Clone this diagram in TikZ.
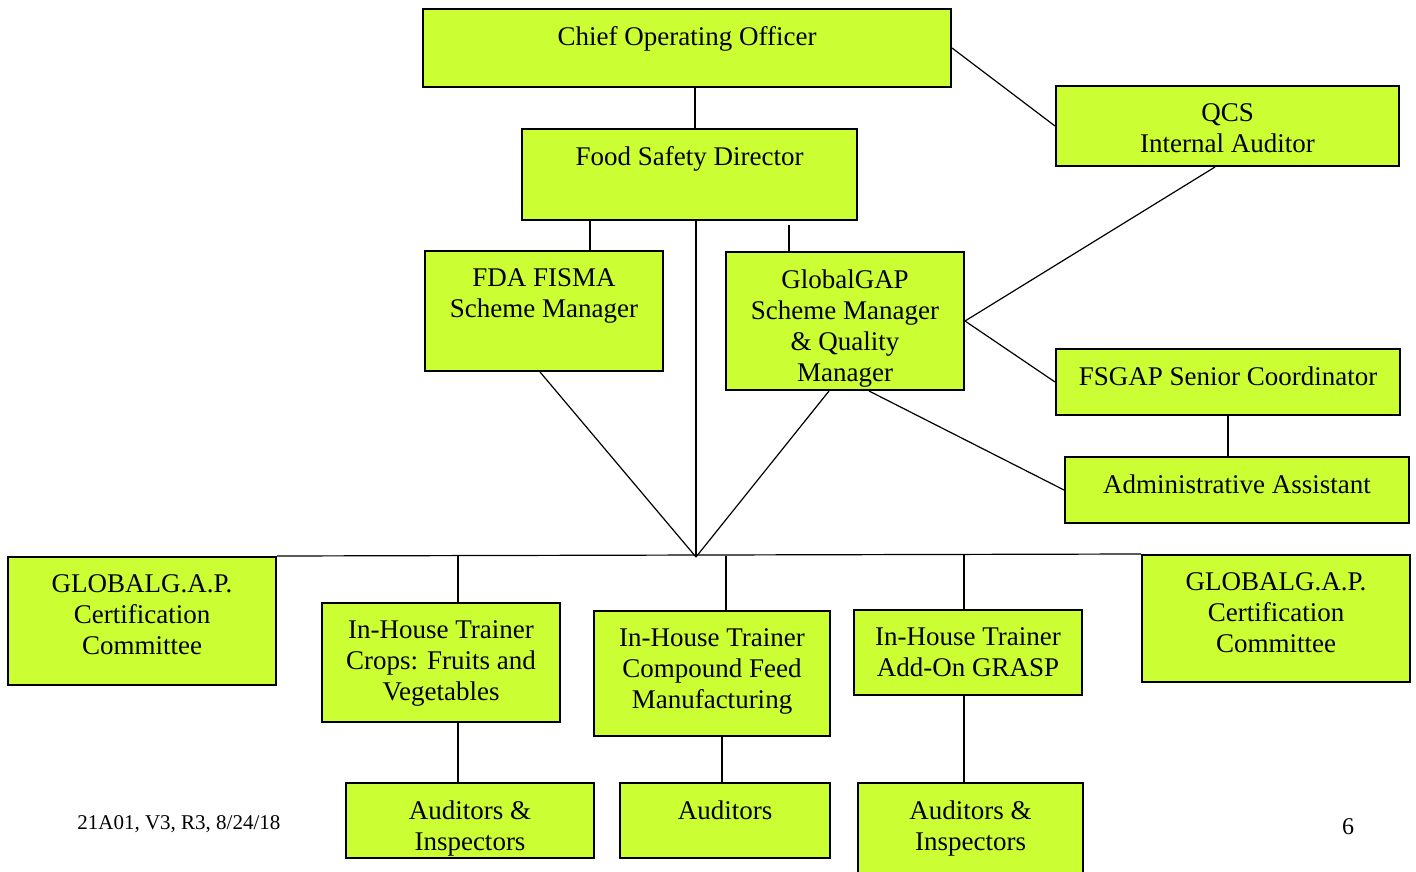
\documentclass[tikz,border=0pt]{standalone}
\usepackage{fontspec}
\setmainfont{Liberation Serif}
\usepackage{tikz}
\usetikzlibrary{calc,fit}

\definecolor{lime}{HTML}{CCFF33}

% box spanned by its corners, label hung from the top edge
\newcommand{\orgbox}[6]{%
  \node[box, fit={(#2,#3) (#4,#5)}] (#1) {};
  \node[lbl, anchor=north] (#1-t) at ([yshift=-9pt]#1.north) {#6};}

\begin{document}
\begin{tikzpicture}[x=0.5pt,y=-0.5pt,
  box/.style={draw=black,line width=1pt,fill=lime,inner sep=0pt},
  lbl/.style={inner sep=0pt,align=center,font=\fontsize{13.5}{15.5}\selectfont},
  link/.style={draw=black,line width=0.6pt}]
\useasboundingbox (0,0) rectangle (1416,871);

% top of the chart
\orgbox{coo}{423}{9}{951}{87}{Chief Operating Officer}
\orgbox{fsd}{522}{129}{857}{220}{Food Safety Director}
\orgbox{qcs}{1056}{86}{1399}{166}{QCS\\Internal Auditor}
\orgbox{fda}{425}{251}{663}{371}{FDA FISMA\\Scheme Manager}
\orgbox{ggap}{726}{252}{964}{390}{GlobalGAP\\Scheme Manager\\\& Quality\\Manager}
\orgbox{fsgap}{1056}{349}{1400}{415}{FSGAP Senior Coordinator}
\orgbox{admin}{1065}{457}{1409}{523}{Administrative Assistant}

% second level
\orgbox{glL}{8}{557}{276}{685}{GLOBALG.A.P.\\Certification\\Committee}
\orgbox{glR}{1142}{555}{1410}{682}{GLOBALG.A.P.\\Certification\\Committee}
\orgbox{crops}{322}{603}{560}{722}{In-House Trainer\\Crops: Fruits and\\Vegetables}
\orgbox{comp}{594}{611}{830}{736}{In-House Trainer\\Compound Feed\\Manufacturing}
\orgbox{grasp}{854}{610}{1082}{695}{In-House Trainer\\Add-On GRASP}
\orgbox{ai1}{346}{783}{594}{858}{Auditors \&\\Inspectors}
\orgbox{aud}{620}{783}{830}{858}{Auditors}
\orgbox{ai3}{858}{783}{1083}{885}{Auditors \&\\Inspectors}

\coordinate (hub) at (696,557);

\draw[link] (coo.south -| 695,0) -- (fsd.north -| 695,0);
\draw[link] (coo.east) -- (qcs.west);
\draw[link] (fsd.south -| 590,0) -- (fda.north -| 590,0);
\draw[link] ([yshift=-2pt]fsd.south -| 789,0) -- (ggap.north -| 789,0);
\draw[link] (fsd.south -| 696,0) -- (hub);
\draw[link] (fda.south -| 540,0) -- (hub);
\draw[link] (ggap.south -| 829,0) -- (hub);
\draw[link] (ggap.east) -- (qcs.south -| 1215,0);
\draw[link] (ggap.east) -- (fsgap.west);
\draw[link] (ggap.south -| 869,0) -- (admin.west);
\draw[link] (fsgap.south) -- (fsgap.south |- admin.north);

% bar and drops
\draw[link] (glL.north east) -- (glR.north west);
\draw[link] (crops.north -| 458,0) -- ++(0,-46);
\draw[link] (comp.north -| 726,0) -- ++(0,-54);
\draw[link] (grasp.north -| 964,0) -- ++(0,-54);
\draw[link] (crops.south -| 458,0) -- (ai1.north -| 458,0);
\draw[link] (comp.south -| 722,0) -- (aud.north -| 722,0);
\draw[link] (grasp.south -| 964,0) -- (ai3.north -| 964,0);

\node[anchor=base west,inner sep=0pt,font=\fontsize{10.5}{12}\selectfont] (ver) at (77,829) {21A01, V3, R3, 8/24/18};
\node[anchor=base,inner sep=0pt,font=\fontsize{12}{14}\selectfont] (page) at (1348,834) {6};
\end{tikzpicture}
\end{document}
